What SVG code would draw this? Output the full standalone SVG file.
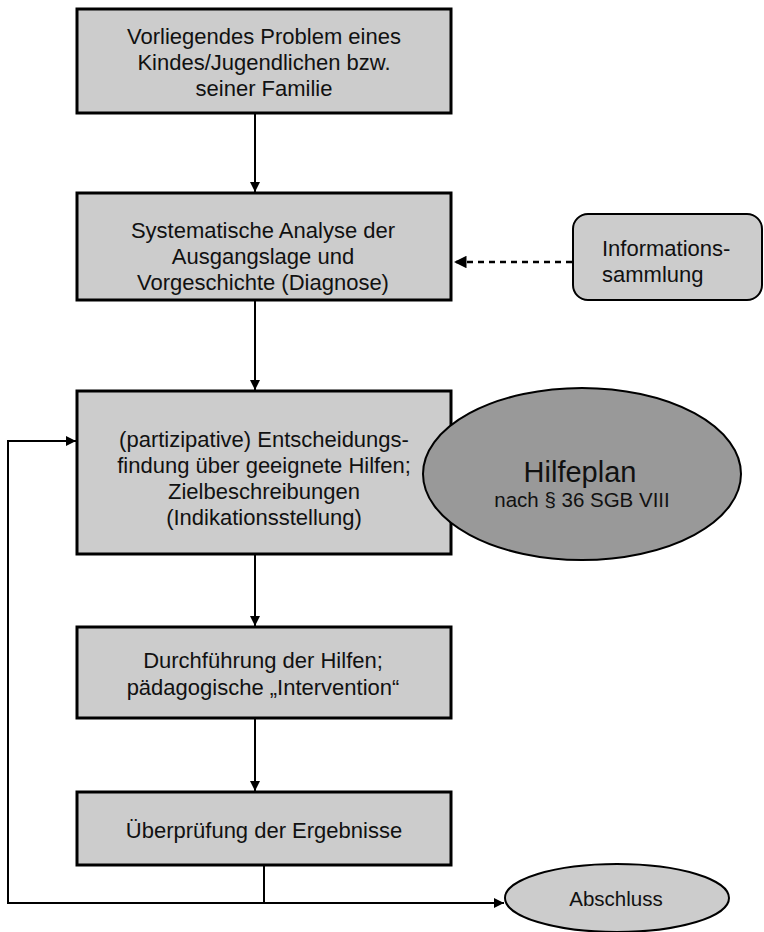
<svg xmlns="http://www.w3.org/2000/svg" width="764" height="932" viewBox="0 0 764 932">
  <style>
    .box { fill: #cccccc; stroke: #000; stroke-width: 3; }
    .oval { fill: #cccccc; stroke: #000; stroke-width: 2; }
    .dark { fill: #999999; stroke: #000; stroke-width: 2; }
    .t { font-family: "Liberation Sans", Arial, sans-serif; font-size: 22px; fill: #111; text-anchor: middle; }
    .tl { text-anchor: start; }
    .line { fill: none; stroke: #000; stroke-width: 2; }
    .dash { fill: none; stroke: #000; stroke-width: 2.5; stroke-dasharray: 6 5; }
  </style>
  <defs>
    <marker id="arrow" viewBox="0 0 10 10" refX="10" refY="5" markerWidth="5" markerHeight="5" orient="auto" markerUnits="strokeWidth">
      <path d="M0,0 L10,5 L0,10 z" fill="#000"/>
    </marker>
  </defs>
  <rect width="764" height="932" fill="#fff"/>

  <g id="connectors">
    <line class="line" x1="255" y1="113" x2="255" y2="192" marker-end="url(#arrow)"/>
    <line class="dash" x1="572" y1="262" x2="454" y2="262" marker-end="url(#arrow)"/>
    <line class="line" x1="255" y1="300" x2="255" y2="390" marker-end="url(#arrow)"/>
    <line class="line" x1="255" y1="554" x2="255" y2="626" marker-end="url(#arrow)"/>
    <line class="line" x1="255" y1="718" x2="255" y2="791" marker-end="url(#arrow)"/>
    <line class="line" x1="264" y1="865" x2="264" y2="903"/>
    <polyline class="line" points="264,903 8,903 8,441 76,441" marker-end="url(#arrow)"/>
    <line class="line" x1="264" y1="903" x2="504" y2="903" marker-end="url(#arrow)"/>
  </g>

  <g id="problem">
    <rect class="box" x="77" y="9" width="374" height="104"/>
    <text class="t" x="264" y="44">Vorliegendes Problem eines</text>
    <text class="t" x="264" y="70">Kindes/Jugendlichen bzw.</text>
    <text class="t" x="264" y="96">seiner Familie</text>
  </g>

  <g id="analyse">
    <rect class="box" x="77" y="193" width="374" height="107"/>
    <text class="t" x="263" y="238">Systematische Analyse der</text>
    <text class="t" x="263" y="264">Ausgangslage und</text>
    <text class="t" x="263" y="290">Vorgeschichte (Diagnose)</text>
  </g>

  <g id="informationssammlung">
    <rect class="oval" x="573" y="214" width="189" height="86" rx="15" ry="15"/>
    <text class="t tl" x="602" y="256">Informations-</text>
    <text class="t tl" x="602" y="282">sammlung</text>
  </g>

  <g id="entscheidung">
    <rect class="box" x="77" y="391" width="374" height="163"/>
    <text class="t" x="264" y="447">(partizipative) Entscheidungs-</text>
    <text class="t" x="264" y="473">findung über geeignete Hilfen;</text>
    <text class="t" x="264" y="499">Zielbeschreibungen</text>
    <text class="t" x="264" y="525">(Indikationsstellung)</text>
  </g>

  <g id="hilfeplan">
    <ellipse class="dark" cx="582" cy="474" rx="159" ry="86"/>
    <text class="t" x="580" y="482" style="font-size:29px">Hilfeplan</text>
    <text class="t" x="582" y="507" style="font-size:20.5px">nach § 36 SGB VIII</text>
  </g>

  <g id="durchfuehrung">
    <rect class="box" x="77" y="627" width="374" height="91"/>
    <text class="t" x="263" y="668">Durchführung der Hilfen;</text>
    <text class="t" x="263" y="695">pädagogische „Intervention“</text>
  </g>

  <g id="ueberpruefung">
    <rect class="box" x="77" y="792" width="374" height="73"/>
    <text class="t" x="264" y="838">Überprüfung der Ergebnisse</text>
  </g>

  <g id="abschluss">
    <ellipse class="oval" cx="617" cy="898" rx="112" ry="34"/>
    <text class="t" x="616" y="906" style="font-size:20.5px">Abschluss</text>
  </g>
</svg>
